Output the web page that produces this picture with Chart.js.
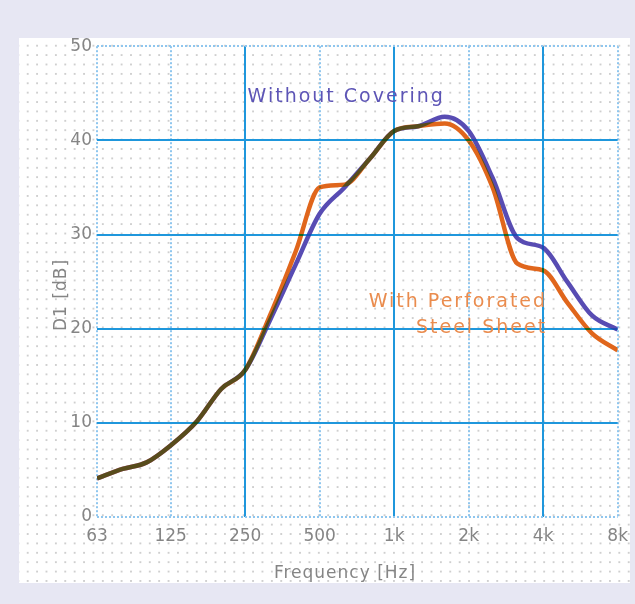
<!DOCTYPE html>
<html>
<head>
<meta charset="utf-8">
<script src="https://cdn.jsdelivr.net/npm/chart.js@4.4.1/dist/chart.umd.min.js"></script>
<style>
  html, body { margin: 0; padding: 0; }
  body { width: 635px; height: 604px; background: #e7e7f3; position: relative; overflow: hidden; }
  #panel {
    position: absolute; left: 19px; top: 38px; width: 611px; height: 545px;
    background-color: #fff;
    background-image: radial-gradient(circle, #cfcfcf 0.8px, transparent 1.3px);
    background-size: 9.4px 9.4px;
    background-position: 4px 3px;
    overflow: hidden;
  }
  #wrap { position: absolute; left: 0; top: -7px; width: 618px; height: 552px; }
</style>
</head>
<body>
<div id="panel"><div id="wrap"><canvas id="chart"></canvas></div></div>
<script>
// ======= Data =======
const freqs = [63, 80, 100, 125, 160, 200, 250, 315, 400, 500, 630, 800, 1000, 1250, 1600, 2000, 2500, 3150, 4000, 5000, 6300, 8000];
const withoutCovering = [4.1, 5.1, 5.8, 7.6, 10.2, 13.6, 15.6, 20.9, 26.8, 32.2, 35.0, 38.1, 41.0, 41.5, 42.5, 41.0, 36.0, 29.6, 28.6, 25.0, 21.4, 19.9];
const withSteelSheet  = [4.1, 5.1, 5.8, 7.6, 10.2, 13.6, 15.6, 21.4, 28.2, 35.0, 35.3, 38.1, 41.0, 41.5, 41.8, 40.0, 35.0, 26.9, 26.2, 22.8, 19.5, 17.7];
const tickFreqs = [63, 125, 250, 500, 1000, 2000, 4000, 8000];
const tickLabels = ["63", "125", "250", "500", "1k", "2k", "4k", "8k"];
const dashedFreqs = [63, 125, 500, 2000, 8000];

const solidBlue = "#1f97dc";
const paleBlue = "#8fc6ee";
const greyText = "#858585";
const tickFont = { family: "DejaVu Sans", size: 17 };

// text sitting on the plot (anchor in data units)
const notes = [
  { text: "Without Covering", f: 640, db: 44.6, align: "center", color: "#5d55b6" },
  { text: "With Perforated", f: 4150, db: 22.8, align: "right", color: "#ea8c4e" },
  { text: "Steel Sheet", f: 4150, db: 20.1, align: "right", color: "#ea8c4e" }
];

const blendPlugin = {
  id: "blend",
  beforeDatasetsDraw(chart) { chart.ctx.save(); chart.ctx.globalCompositeOperation = "darken"; },
  afterDatasetsDraw(chart) {
    chart.ctx.restore();
    const ctx = chart.ctx, x = chart.scales.x, y = chart.scales.y;
    ctx.save();
    ctx.font = "19px 'DejaVu Sans'";
    ctx.letterSpacing = "2px";
    ctx.textBaseline = "middle";
    notes.forEach(n => {
      ctx.fillStyle = n.color;
      ctx.textAlign = n.align;
      ctx.fillText(n.text, x.getPixelForValue(n.f), y.getPixelForValue(n.db));
    });
    // axis titles
    ctx.font = "17px 'DejaVu Sans'";
    ctx.letterSpacing = "1px";
    ctx.fillStyle = greyText;
    ctx.textAlign = "center";
    ctx.fillText("Frequency [Hz]", 326, 543);
    ctx.translate(43, 264);
    ctx.rotate(-Math.PI / 2);
    ctx.fillText("D1 [dB]", 0, 0);
    ctx.restore();
  }
};

const ctx = document.getElementById("chart").getContext("2d");
const chart = new Chart(ctx, {
  type: "line",
  data: {
    datasets: [
      { label: "Without Covering", data: freqs.map((f, i) => ({ x: f, y: withoutCovering[i] })),
        borderColor: "#584cb3", borderWidth: 4.5, pointRadius: 0, cubicInterpolationMode: "monotone" },
      { label: "With Perforated Steel Sheet", data: freqs.map((f, i) => ({ x: f, y: withSteelSheet[i] })),
        borderColor: "#e0661c", borderWidth: 4.5, pointRadius: 0, cubicInterpolationMode: "monotone" }
    ]
  },
  options: {
    responsive: true,
    maintainAspectRatio: false,
    animation: false,
    layout: { padding: { top: 7, right: 0, left: 0, bottom: 0 } },
    plugins: { legend: { display: false }, tooltip: { enabled: false } },
    scales: {
      x: {
        type: "logarithmic", min: 63, max: 8000,
        afterBuildTicks: s => { s.ticks = tickFreqs.map(v => ({ value: v })); },
        afterFit: s => { s.height = 66; },
        ticks: { color: greyText, font: tickFont, padding: 9, maxRotation: 0, autoSkip: false,
          callback: (v) => tickLabels[tickFreqs.indexOf(v)] },
        grid: {
          drawTicks: false, lineWidth: 2,
          color: c => dashedFreqs.includes(c.tick && c.tick.value) ? paleBlue : solidBlue
        },
        border: { display: false, dash: c => dashedFreqs.includes(c.tick && c.tick.value) ? [2, 2] : [] }
      },
      y: {
        min: 0, max: 50,
        ticks: { stepSize: 10, color: greyText, font: tickFont, padding: 5 },
        afterFit: s => { s.width = 78; },
        grid: {
          drawTicks: false, lineWidth: 2,
          color: c => (c.tick && (c.tick.value === 0 || c.tick.value === 50)) ? paleBlue : solidBlue
        },
        border: { display: false, dash: c => (c.tick && (c.tick.value === 0 || c.tick.value === 50)) ? [2, 2] : [] }
      }
    }
  },
  plugins: [blendPlugin]
});
</script>
</body>
</html>
